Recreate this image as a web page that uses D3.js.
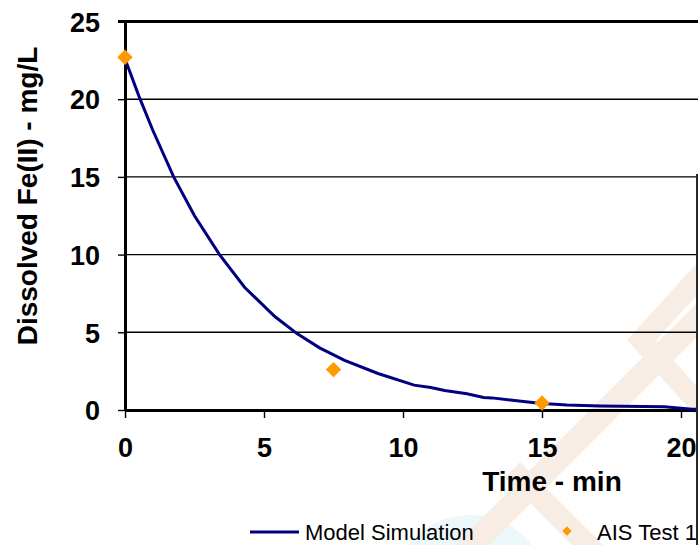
<!DOCTYPE html>
<html lang="en">
<head>
  <meta charset="UTF-8">
  <title>Dissolved Fe(II)</title>
  <script src="https://d3js.org/d3.v7.min.js"></script>
  <style>
    html, body {
      margin: 0;
      padding: 0;
      background: #fff;
    }
    svg { display: block; font-family: "Liberation Sans", Arial, sans-serif; }
    .grid line { stroke: #000; stroke-width: 1.4; }
    .tick-label { font-weight: bold; font-size: 27px; fill: #000; }
    .axis-title { font-weight: bold; font-size: 28px; fill: #000; }
    .legend-text { font-size: 22px; fill: #000; }
    .model-line { fill: none; stroke: #000080; stroke-width: 3; }
  </style>
</head>
<body>
  <div id="container"></div>
  <script>
    const width = 698;
    const height = 545;

    // model simulation curve (time in min, Fe(II) in mg/L)
    const modelTime = [0, 0.5, 1, 1.75, 2.5, 3.4, 4.3, 5.4, 6.2, 7, 7.9, 9.1, 10.4, 11, 11.5, 12.3, 12.9, 13.2, 14.9, 15.9, 17.1, 19.4, 20.4, 21];
    const modelFe   = [22.6, 20.2, 18.0, 15.0, 12.5, 10.0, 7.9, 6.0, 4.9, 4.0, 3.2, 2.35, 1.6, 1.45, 1.25, 1.05, 0.8, 0.78, 0.43, 0.32, 0.26, 0.21, 0.05, 0.03];

    // AIS Test 1 measurements
    const testTime = [0, 7.5, 15];
    const testFe   = [22.7, 2.6, 0.45];

    const xTicks = [0, 5, 10, 15, 20, 25];
    const yTicks = [0, 5, 10, 15, 20, 25];
    const seriesNames = ['Model Simulation', 'AIS Test 1'];

    const svg = d3.select('#container').append('svg').attr('width', width).attr('height', height);

    // faint background watermark
    const wm = svg.append('g').attr('opacity', 0.28);
    wm.append('ellipse').attr('cx', 470).attr('cy', 585).attr('rx', 75).attr('ry', 70).attr('fill', '#bfe9f4');
    wm.append('path').attr('fill', '#e8bf9f')
      .attr('d', 'M455,545 L698,302 L698,336 L489,545 Z');
    wm.append('path').attr('fill', '#e8bf9f')
      .attr('d', 'M698,262 L627,340 L698,418 L698,388 L656,340 L698,294 Z');
    wm.append('path').attr('fill', '#e8bf9f')
      .attr('d', 'M520,462 L603,545 L572,545 L505,478 Z');

    const x = d3.scaleLinear().domain([0, 25]).range([125, 125 + 25 * 27.8]);
    const y = d3.scaleLinear().domain([0, 25]).range([410, 21.5]);

    // horizontal gridlines
    svg.append('g').attr('class', 'grid')
      .selectAll('line').data(yTicks.filter(d => d > 0 && d < 25)).join('line')
      .attr('x1', x(0)).attr('x2', x(25))
      .attr('y1', d => y(d)).attr('y2', d => y(d));

    // y axis
    const yAxis = svg.append('g').attr('transform', `translate(${x(0)},0)`)
      .call(d3.axisLeft(y).tickValues(yTicks).tickSize(7).tickSizeOuter(0));
    yAxis.select('.domain').attr('stroke', '#000').attr('stroke-width', 3);
    yAxis.selectAll('.tick line').attr('stroke', '#000').attr('stroke-width', 1.4);
    yAxis.selectAll('.tick text').attr('class', 'tick-label').attr('x', -25).attr('dy', '0.36em');

    // x axis
    const xAxis = svg.append('g').attr('transform', `translate(0,${y(0)})`)
      .call(d3.axisBottom(x).tickValues(xTicks).tickSize(8).tickSizeOuter(0));
    xAxis.select('.domain').attr('stroke', '#000').attr('stroke-width', 3);
    xAxis.selectAll('.tick line').attr('stroke', '#000').attr('stroke-width', 1.4);
    xAxis.selectAll('.tick text').attr('class', 'tick-label').attr('y', 37).attr('dy', '0.36em');

    // top border of plot at 25
    svg.append('line').attr('x1', x(0) - 7).attr('x2', x(25))
      .attr('y1', y(25)).attr('y2', y(25)).attr('stroke', '#000').attr('stroke-width', 3);

    // model curve
    const line = d3.line().x(d => x(d[0])).y(d => y(d[1]));
    svg.append('path').datum(d3.zip(modelTime, modelFe)).attr('class', 'model-line').attr('d', line);

    // test points
    const diamond = d3.symbol().type(d3.symbolDiamond2).size(150);
    svg.append('g').selectAll('path').data(d3.zip(testTime, testFe)).join('path')
      .attr('d', diamond)
      .attr('transform', d => `translate(${x(d[0])},${y(d[1])})`)
      .attr('fill', '#ff9900');

    // axis titles
    svg.append('text').attr('class', 'axis-title')
      .attr('transform', 'translate(37,196) rotate(-90)')
      .attr('text-anchor', 'middle')
      .text('Dissolved Fe(II) - mg/L');
    svg.append('text').attr('class', 'axis-title')
      .attr('x', 552).attr('y', 491)
      .attr('text-anchor', 'middle')
      .text('Time - min');

    // legend
    svg.append('line').attr('x1', 250).attr('x2', 299).attr('y1', 532).attr('y2', 532)
      .attr('stroke', '#000080').attr('stroke-width', 3);
    svg.append('text').attr('class', 'legend-text').attr('x', 305).attr('y', 540).text(seriesNames[0]);
    svg.append('path').attr('d', d3.symbol().type(d3.symbolDiamond2).size(55))
      .attr('transform', 'translate(567,531)').attr('fill', '#ff9900');
    svg.append('text').attr('class', 'legend-text').attr('x', 597).attr('y', 540).text(seriesNames[1]);

    // dark edge at right
    svg.append('line').attr('x1', 697).attr('x2', 697).attr('y1', 174).attr('y2', height)
      .attr('stroke', '#2a2a2a').attr('stroke-width', 2);
  </script>
</body>
</html>
